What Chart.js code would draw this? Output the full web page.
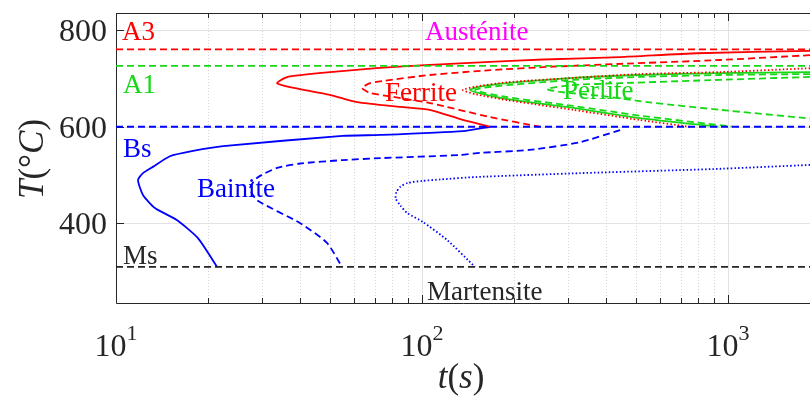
<!DOCTYPE html>
<html>
<head>
<meta charset="utf-8">
<title>TTT diagram</title>
<script src="https://cdn.jsdelivr.net/npm/chart.js@4.4.0/dist/chart.umd.min.js"></script>
<style>
  html, body { margin: 0; padding: 0; background: #fff; }
</style>
</head>
<body>
<canvas id="ttt" width="810" height="399"></canvas>
<script>
// axis limits (time is log scale)
const tMin = 10, tMax = 1853;
const tempMin = 235.5, tempMax = 835.2;
const xTicks = [10, 100, 1000];
const yTicks = [400, 600, 800];

// critical temperatures (horizontal dashed lines)
const refNames = ['A3', 'A1', 'Bs', 'Ms'];
const refTemps = [760, 726, 600, 310];

// transformation curves, points as [t (s), T (°C)]
const ferriteStart = [[1853, 757], [792, 752], [444, 744], [250, 739], [167, 734], [106, 728], [71, 721], [50, 713], [38, 705], [35.7, 701], [33.6, 690], [37, 682], [50, 666], [61.3, 651], [85, 641], [106, 635], [136, 614], [167, 600]];
const ferriteHalf = [[1853, 748], [942, 738], [444, 730], [262, 724], [167, 717], [106, 707], [75, 695], [67.6, 690], [63.7, 680], [67.6, 670], [80, 662], [106, 649], [167, 620], [243, 600]];
const ferriteEnd = [[1853, 721], [942, 713], [515, 709], [312, 701], [190, 692], [150, 683], [136, 676], [150, 667], [190, 655], [312, 635], [515, 614], [751, 600]];
const perliteStart = [[1853, 713], [942, 711], [515, 707], [312, 701], [190, 690], [155, 683], [143.5, 676], [155, 669], [190, 657], [312, 639], [515, 618], [930, 600]];
const perliteHalf = [[1853, 709], [942, 707], [515, 703], [312, 697], [190, 686], [160, 681], [149, 676], [160, 670], [190, 661], [312, 643], [515, 623], [1038, 600]];
const perliteLate = [[1853, 703], [942, 697], [444, 690], [305, 686], [256, 678], [282, 672], [382, 664], [543, 651], [942, 635], [1853, 617]];
const bainiteStart = [[167, 600], [136, 591], [73, 583], [55, 581], [22.4, 560], [17.85, 550], [15, 539], [13.2, 517], [12.25, 504], [11.8, 490], [12.25, 459], [13.4, 432], [15.8, 407], [18.5, 370], [21.4, 310]];
const bainiteHalf = [[444, 593], [328, 568], [225, 552], [155, 546], [133, 541.5], [73, 535], [55, 531], [40, 524], [33.6, 515], [29, 495], [27.4, 473], [28.9, 448], [39.9, 401], [48.9, 360], [54.8, 310]];
const bainiteEnd = [[1853, 521], [893, 512.5], [328, 504], [150, 496], [115, 491], [100, 488], [90, 484], [85, 476], [82.5, 465], [82, 452], [85, 437], [89.3, 422], [100.7, 403], [120.7, 366], [149, 310]];

// phase / line labels: text, t at left edge, T at baseline
const labelText = ['A3', 'Austénite', 'A1', 'Ferrite', 'Perlite', 'Bs', 'Bainite', 'Ms', 'Martensite'];
const labelT = [10.46, 102.3, 10.54, 75.7, 289, 10.54, 18.4, 10.54, 103.8];
const labelTemp = [779, 779, 670, 653, 657, 537, 455, 316, 242];

const RED = '#ff0000', GREEN = '#16d816', BLUE = '#0000ff', DARK = '#262626', MAGENTA = '#ff00ff';
const refColors = [RED, GREEN, BLUE, DARK];
const labelColors = [RED, MAGENTA, GREEN, RED, GREEN, BLUE, BLUE, DARK, DARK];
const SERIF = "'Liberation Serif', 'Times New Roman', serif";
const DASH = [7, 4];
const DOT = [1.5, 2.2];

const toPoints = (arr) => arr.map(([t, T]) => ({ x: t, y: T }));

const datasets = [];
refTemps.forEach((T, i) => {
  datasets.push({
    label: refNames[i],
    data: [{ x: tMin, y: T }, { x: tMax, y: T }],
    borderColor: refColors[i],
    borderDash: DASH,
  });
});
[
  [ferriteStart, RED, []],
  [ferriteHalf, RED, DASH],
  [ferriteEnd, RED, DOT],
  [perliteStart, GREEN, []],
  [perliteHalf, GREEN, DASH],
  [perliteLate, GREEN, DASH],
  [bainiteStart, BLUE, []],
  [bainiteHalf, BLUE, DASH],
  [bainiteEnd, BLUE, DOT],
].forEach(([pts, color, dash]) => {
  datasets.push({ data: toPoints(pts), borderColor: color, borderDash: dash, tension: 0.2 });
});

function drawRuns(ctx, runs, cx, cy) {
  let total = 0;
  runs.forEach((r) => { ctx.font = r[1]; r.w = ctx.measureText(r[0]).width; total += r.w; });
  let px = cx - total / 2;
  runs.forEach((r) => { ctx.font = r[1]; ctx.fillText(r[0], px, cy + (r[2] || 0)); px += r.w; });
}

const framePlugin = {
  id: 'frame',
  beforeDatasetsDraw(chart) {
    const { ctx, chartArea: a, scales: { x, y } } = chart;
    ctx.save();

    // minor grid (dotted)
    ctx.lineWidth = 1;
    ctx.strokeStyle = '#d4d4d4';
    ctx.setLineDash([1, 2]);
    xTicks.forEach((d) => {
      for (let k = 2; k <= 9; k++) {
        const v = d * k;
        if (v >= tMax) continue;
        const px = Math.round(x.getPixelForValue(v)) + 0.5;
        ctx.beginPath(); ctx.moveTo(px, a.top); ctx.lineTo(px, a.bottom); ctx.stroke();
      }
    });

    // major grid
    ctx.setLineDash([]);
    ctx.strokeStyle = '#e2e2e2';
    xTicks.slice(1).forEach((v) => {
      const px = Math.round(x.getPixelForValue(v)) + 0.5;
      ctx.beginPath(); ctx.moveTo(px, a.top); ctx.lineTo(px, a.bottom); ctx.stroke();
    });
    yTicks.forEach((v) => {
      const py = Math.round(y.getPixelForValue(v)) + 0.5;
      ctx.beginPath(); ctx.moveTo(a.left, py); ctx.lineTo(a.right, py); ctx.stroke();
    });

    // box and inward ticks
    ctx.strokeStyle = DARK;
    ctx.beginPath();
    ctx.moveTo(a.right, a.top + 0.5); ctx.lineTo(a.left + 0.5, a.top + 0.5);
    ctx.lineTo(a.left + 0.5, a.bottom + 0.5); ctx.lineTo(a.right, a.bottom + 0.5);
    ctx.stroke();
    ctx.beginPath();
    xTicks.forEach((d) => {
      for (let k = 1; k <= 9; k++) {
        const v = d * k;
        if (v >= tMax) continue;
        const len = k === 1 ? 8 : 5;
        const px = Math.round(x.getPixelForValue(v)) + 0.5;
        ctx.moveTo(px, a.top); ctx.lineTo(px, a.top + len);
        ctx.moveTo(px, a.bottom); ctx.lineTo(px, a.bottom - len);
      }
    });
    yTicks.forEach((v) => {
      const py = Math.round(y.getPixelForValue(v)) + 0.5;
      ctx.moveTo(a.left, py); ctx.lineTo(a.left + 8, py);
    });
    ctx.stroke();

    // tick labels
    ctx.fillStyle = DARK;
    ctx.textBaseline = 'alphabetic';
    ctx.textAlign = 'right';
    ctx.font = '32px ' + SERIF;
    yTicks.forEach((v) => {
      ctx.fillText(String(v), a.left - 9, y.getPixelForValue(v) + 11);
    });
    ctx.textAlign = 'left';
    xTicks.forEach((v) => {
      const exp = String(Math.round(Math.log10(v)));
      drawRuns(ctx, [['10', '32px ' + SERIF, 0], [exp, '22px ' + SERIF, -16]], x.getPixelForValue(v), a.bottom + 53);
    });

    // axis titles
    drawRuns(ctx, [
      ['t', 'italic 35px ' + SERIF], ['(', '35px ' + SERIF],
      ['s', 'italic 35px ' + SERIF], [')', '35px ' + SERIF],
    ], 461, a.bottom + 85);
    ctx.save();
    ctx.translate(43, (a.top + a.bottom) / 2 + 1);
    ctx.rotate(-Math.PI / 2);
    drawRuns(ctx, [
      ['T', 'italic 35px ' + SERIF], ['(', '35px ' + SERIF], ['°', '35px ' + SERIF],
      ['C', 'italic 35px ' + SERIF], [')', '35px ' + SERIF],
    ], 0, 0);
    ctx.restore();

    // phase labels (lines are drawn over them)
    ctx.font = '27px ' + SERIF;
    labelText.forEach((txt, i) => {
      ctx.fillStyle = labelColors[i];
      ctx.fillText(txt, x.getPixelForValue(labelT[i]), y.getPixelForValue(labelTemp[i]));
    });

    ctx.restore();
  },
};

new Chart(document.getElementById('ttt'), {
  type: 'scatter',
  data: { datasets },
  options: {
    responsive: false,
    animation: false,
    showLine: true,
    layout: { padding: { left: 116, top: 13, right: 0, bottom: 96 } },
    elements: {
      point: { radius: 0, hoverRadius: 0 },
      line: { borderWidth: 1.8, fill: false, borderCapStyle: 'butt' },
    },
    plugins: { legend: { display: false }, tooltip: { enabled: false } },
    scales: {
      x: { type: 'logarithmic', min: tMin, max: tMax, display: false },
      y: { type: 'linear', min: tempMin, max: tempMax, display: false },
    },
  },
  plugins: [framePlugin],
});
</script>
</body>
</html>
